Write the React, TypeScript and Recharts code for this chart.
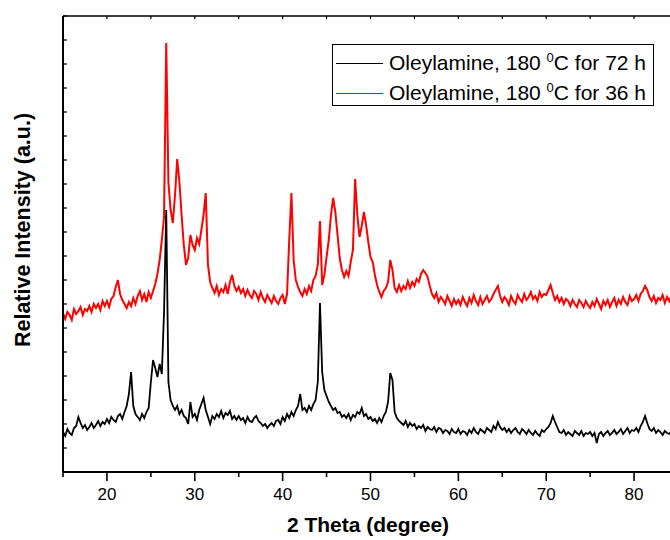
import React from 'react';
import { LineChart, Line, XAxis, YAxis } from 'recharts';

const FONT = '"Liberation Sans", Arial, sans-serif';

// 2 theta scan positions (degree)
const twoTheta = [
    15, 15.25, 15.5, 15.75, 16, 16.25, 16.5, 16.75, 17, 17.25, 17.5, 17.75, 18, 18.25, 18.5, 18.75, 19, 19.25, 19.5, 19.75,
    20, 20.25, 20.5, 20.75, 21, 21.25, 21.5, 21.75, 22, 22.25, 22.5, 22.75, 23, 23.25, 23.5, 23.75, 24, 24.25, 24.5, 24.75,
    25, 25.25, 25.5, 25.75, 26, 26.25, 26.5, 26.75, 27, 27.25, 27.5, 27.75, 28, 28.25, 28.5, 28.75, 29, 29.25, 29.5, 29.75,
    30, 30.25, 30.5, 30.75, 31, 31.25, 31.5, 31.75, 32, 32.25, 32.5, 32.75, 33, 33.25, 33.5, 33.75, 34, 34.25, 34.5, 34.75,
    35, 35.25, 35.5, 35.75, 36, 36.25, 36.5, 36.75, 37, 37.25, 37.5, 37.75, 38, 38.25, 38.5, 38.75, 39, 39.25, 39.5, 39.75,
    40, 40.25, 40.5, 40.75, 41, 41.25, 41.5, 41.75, 42, 42.25, 42.5, 42.75, 43, 43.25, 43.5, 43.75, 44, 44.25, 44.5, 44.75,
    45, 45.25, 45.5, 45.75, 46, 46.25, 46.5, 46.75, 47, 47.25, 47.5, 47.75, 48, 48.25, 48.5, 48.75, 49, 49.25, 49.5, 49.75,
    50, 50.25, 50.5, 50.75, 51, 51.25, 51.5, 51.75, 52, 52.25, 52.5, 52.75, 53, 53.25, 53.5, 53.75, 54, 54.25, 54.5, 54.75,
    55, 55.25, 55.5, 55.75, 56, 56.25, 56.5, 56.75, 57, 57.25, 57.5, 57.75, 58, 58.25, 58.5, 58.75, 59, 59.25, 59.5, 59.75,
    60, 60.25, 60.5, 60.75, 61, 61.25, 61.5, 61.75, 62, 62.25, 62.5, 62.75, 63, 63.25, 63.5, 63.75, 64, 64.25, 64.5, 64.75,
    65, 65.25, 65.5, 65.75, 66, 66.25, 66.5, 66.75, 67, 67.25, 67.5, 67.75, 68, 68.25, 68.5, 68.75, 69, 69.25, 69.5, 69.75,
    70, 70.25, 70.5, 70.75, 71, 71.25, 71.5, 71.75, 72, 72.25, 72.5, 72.75, 73, 73.25, 73.5, 73.75, 74, 74.25, 74.5, 74.75,
    75, 75.25, 75.5, 75.75, 76, 76.25, 76.5, 76.75, 77, 77.25, 77.5, 77.75, 78, 78.25, 78.5, 78.75, 79, 79.25, 79.5, 79.75,
    80, 80.25, 80.5, 80.75, 81, 81.25, 81.5, 81.75, 82, 82.25, 82.5, 82.75, 83, 83.25, 83.5, 83.75, 84, 84.25, 84.5, 84.75,
    85,
];

// Oleylamine, 180 C for 72 h (black trace)
const oleylamine72h = [
    40, 36, 43, 39, 37, 44, 46, 55, 49, 44, 47, 42, 45, 49, 44, 47, 51, 46, 50, 48,
    53, 49, 55, 52, 50, 56, 58, 53, 60, 66, 78, 100, 66, 58, 55, 52, 58, 54, 60, 64,
    90, 112, 104, 95, 108, 98, 160, 262, 90, 72, 66, 62, 66, 58, 62, 56, 54, 48, 70, 55,
    58, 52, 62, 68, 74, 62, 55, 48, 56, 53, 58, 55, 61, 54, 59, 57, 61, 53, 56, 52,
    56, 52, 54, 49, 55, 51, 50, 54, 56, 51, 49, 46, 48, 44, 47, 49, 46, 51, 52, 48,
    55, 51, 58, 54, 60, 56, 62, 66, 78, 62, 64, 60, 66, 62, 68, 72, 90, 169, 100, 82,
    76, 70, 66, 62, 64, 59, 60, 55, 57, 54, 58, 52, 57, 55, 60, 58, 64, 56, 58, 53,
    55, 51, 53, 49, 54, 50, 56, 60, 70, 99, 92, 60, 54, 51, 49, 47, 51, 45, 49, 46,
    48, 43, 46, 44, 47, 41, 45, 43, 42, 45, 40, 44, 43, 39, 42, 41, 38, 43, 40, 39,
    43, 38, 41, 40, 37, 42, 39, 44, 40, 38, 43, 41, 39, 44, 42, 40, 46, 43, 50, 45,
    42, 44, 40, 43, 39, 42, 44, 40, 38, 43, 41, 38, 42, 39, 37, 41, 38, 36, 42, 40,
    43, 45, 49, 56, 50, 45, 40, 39, 42, 37, 40, 38, 36, 41, 39, 37, 41, 36, 39, 38,
    40, 36, 39, 29, 38, 40, 36, 39, 41, 37, 39, 42, 38, 40, 43, 38, 41, 44, 39, 42,
    41, 44, 40, 46, 50, 56, 49, 43, 41, 44, 39, 42, 40, 37, 41, 39, 38, 41, 37, 40,
    39,
];

// Oleylamine, 180 C for 36 h (red trace)
const oleylamine36h = [
    159, 153, 160, 157, 152, 163, 158, 161, 165, 157, 163, 161, 166, 160, 168, 164, 168, 162, 171, 166,
    171, 165, 173, 176, 185, 192, 178, 172, 168, 164, 170, 166, 174, 168, 176, 181, 172, 178, 170, 180,
    174, 181, 188, 198, 212, 232, 255, 429, 289, 262, 249, 277, 313, 290, 257, 227, 207, 214, 237, 227,
    222, 234, 228, 242, 257, 279, 207, 190, 184, 179, 186, 177, 183, 180, 187, 178, 190, 197, 186, 181,
    185, 179, 183, 176, 182, 177, 174, 181, 178, 172, 180, 174, 170, 177, 173, 169, 176, 171, 168, 174,
    177, 168, 178, 232, 279, 212, 192, 185, 180, 176, 183, 178, 186, 181, 192, 196, 207, 251, 187, 197,
    215, 232, 257, 274, 260, 237, 214, 202, 195, 201, 196, 210, 222, 293, 257, 235, 246, 260, 247, 230,
    215, 210, 197, 187, 180, 175, 181, 184, 190, 212, 202, 184, 180, 187, 181, 186, 183, 191, 184, 190,
    186, 193, 190, 198, 202, 199, 195, 186, 178, 174, 179, 170, 175, 172, 168, 176, 171, 166, 173, 168,
    172, 167, 175, 170, 166, 174, 169, 177, 171, 167, 175, 168, 172, 176, 170, 173, 178, 182, 186, 176,
    170, 175, 172, 167, 176, 171, 168, 177, 173, 170, 178, 172, 175, 180, 173, 176, 171, 180, 175, 178,
    177, 182, 187, 179, 172, 176, 170, 174, 168, 173, 171, 166, 172, 168, 165, 172, 169, 165, 171, 167,
    164, 170, 166, 173, 168, 163, 171, 167, 172, 165, 170, 174, 166, 172, 168, 175, 170, 167, 176, 171,
    173, 177, 171, 178, 181, 186, 182, 175, 171, 176, 169, 174, 172, 177, 169, 175, 171, 177, 179, 160,
    172,
];

const xTicks = [15, 20, 25, 30, 35, 40, 45, 50, 55, 60, 65, 70, 75, 80, 85];
const yTicks = [0, 24, 48, 72, 96, 120, 144, 168, 192, 216, 240, 264, 288, 312, 336, 360, 384, 408, 432, 456];

const legendLabels = [
    { text: 'Oleylamine, 180 ', sup: '0', rest: 'C for 72 h' },
    { text: 'Oleylamine, 180 ', sup: '0', rest: 'C for 36 h' },
];
const colors = ['#000000', '#ff0000'];

const data = twoTheta.map((t, i) => ({
    t,
    h72: oleylamine72h[i],
    h36: oleylamine36h[i],
}));

const BottomTick = (props: any) => {
    const { x, y, payload } = props;
    const v = payload.value;
    const major = v % 10 === 0;
    return (
        <g>
            <line x1={x} y1={y} x2={x} y2={y + (major ? 9 : 5)} stroke="#000" strokeWidth={1.6} />
            {major && (
                <text x={x} y={y + 28} textAnchor="middle" fontSize={17} fill="#000" fontFamily={FONT}>
                    {v}
                </text>
            )}
        </g>
    );
};

const TopTick = (props: any) => {
    const { x, y } = props;
    return <line x1={x} y1={y} x2={x} y2={y + 3} stroke="#000" strokeWidth={1.2} />;
};

const LeftTick = (props: any) => {
    const { x, y } = props;
    return <line x1={x} y1={y} x2={x + 4} y2={y} stroke="#000" strokeWidth={1.2} />;
};

export default function App() {
    return (
        <div
            style={{
                position: 'absolute',
                left: 0,
                top: 0,
                width: 670,
                height: 540,
                overflow: 'hidden',
                background: '#fff',
                fontFamily: FONT,
            }}
        >
            <LineChart width={700} height={540} data={data} margin={{ top: 0, right: 22, bottom: 0, left: 0 }}>
                <XAxis
                    dataKey="t"
                    type="number"
                    domain={[15, 85]}
                    ticks={xTicks}
                    allowDataOverflow
                    height={68}
                    tickSize={0}
                    tickMargin={0}
                    tickLine={false}
                    tick={<BottomTick />}
                    axisLine={{ stroke: '#000', strokeWidth: 2 }}
                    interval={0}
                />
                <XAxis
                    xAxisId="top"
                    dataKey="t"
                    type="number"
                    orientation="top"
                    domain={[15, 85]}
                    ticks={xTicks}
                    allowDataOverflow
                    height={16}
                    tickSize={0}
                    tickMargin={0}
                    tickLine={false}
                    tick={<TopTick />}
                    axisLine={{ stroke: '#000', strokeWidth: 1.6 }}
                    interval={0}
                />
                <YAxis
                    type="number"
                    domain={[0, 456]}
                    ticks={yTicks}
                    allowDataOverflow
                    width={63}
                    tickSize={0}
                    tickMargin={0}
                    tickLine={false}
                    tick={<LeftTick />}
                    axisLine={{ stroke: '#000', strokeWidth: 2 }}
                    interval={0}
                />
                <Line
                    type="linear"
                    dataKey="h36"
                    stroke={colors[1]}
                    strokeWidth={2}
                    dot={false}
                    isAnimationActive={false}
                />
                <Line
                    type="linear"
                    dataKey="h72"
                    stroke={colors[0]}
                    strokeWidth={1.8}
                    dot={false}
                    isAnimationActive={false}
                />
            </LineChart>
            <svg
                width={670}
                height={540}
                style={{ position: 'absolute', left: 0, top: 0, pointerEvents: 'none' }}
            >
                <text x={368} y={532} textAnchor="middle" fontSize={21} fontWeight="bold" fill="#000" fontFamily={FONT}>
                    2 Theta (degree)
                </text>
                <text
                    x={30}
                    y={230}
                    transform="rotate(-90, 30, 230)"
                    textAnchor="middle"
                    fontSize={21.5}
                    fontWeight="bold"
                    fill="#000"
                    fontFamily={FONT}
                >
                    Relative Intensity (a.u.)
                </text>
            </svg>
            <div
                style={{
                    position: 'absolute',
                    left: 332,
                    top: 44,
                    width: 320,
                    height: 60,
                    border: '1px solid #000',
                    background: '#fff',
                }}
            >
                {legendLabels.map((item, i) => (
                    <div
                        key={i}
                        style={{
                            position: 'absolute',
                            left: 0,
                            top: 3 + i * 30,
                            height: 30,
                            display: 'flex',
                            alignItems: 'center',
                            whiteSpace: 'nowrap',
                        }}
                    >
                        <span
                            style={{
                                display: 'inline-block',
                                marginLeft: 3,
                                width: 47,
                                height: 1,
                                background: colors[i],
                            }}
                        />
                        <span style={{ marginLeft: 6, fontSize: 21, color: '#000', lineHeight: '22px' }}>
                            {item.text}
                            <sup style={{ fontSize: 13, verticalAlign: 'super', lineHeight: 0 }}>{item.sup}</sup>
                            {item.rest}
                        </span>
                    </div>
                ))}
            </div>
        </div>
    );
}
